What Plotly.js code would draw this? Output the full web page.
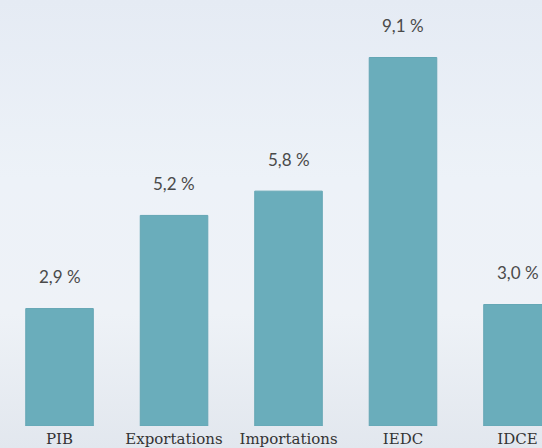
<!DOCTYPE html>
<html>
<head>
<meta charset="utf-8">
<script src="https://cdn.plot.ly/plotly-3.0.1.min.js"></script>
<style>
html,body{margin:0;padding:0;}
#chart{width:542px;height:448px;background:linear-gradient(to bottom,#e5ebf4 0%,#edf2f8 40%,#eef2f7 70%,#e2e7ee 100%);}
</style>
</head>
<body>
<div id="chart"></div>
<script>
var categories = ["PIB", "Exportations", "Importations", "IEDC", "IDCE"];
var values = [2.9, 5.2, 5.8, 9.1, 3.0];
var valueLabels = ["2,9 %", "5,2 %", "5,8 %", "9,1 %", "3,0 %"];

var trace = {
  type: "bar",
  x: categories,
  y: values,
  width: 0.59,
  marker: {color: "#6aadbb", line: {color: "#64a6b4", width: 1}},
  hoverinfo: "none"
};

var annotations = categories.map(function(c, i){
  return {
    x: c, y: values[i], xref: "x", yref: "y",
    text: valueLabels[i], showarrow: false,
    yanchor: "middle", yshift: 32,
    font: {family: "Lato, 'Open Sans', sans-serif", size: 17, color: "#4a4a4a"}
  };
});

var layout = {
  width: 542, height: 448,
  margin: {l: 0, r: 0, t: 0, b: 22},
  paper_bgcolor: "rgba(0,0,0,0)",
  plot_bgcolor: "rgba(0,0,0,0)",
  showlegend: false,
  xaxis: {
    type: "category",
    range: [-0.52, 4.214],
    showgrid: false, zeroline: false, showline: false, ticks: "",
    ticklabelstandoff: 2,
    automargin: false,
    tickfont: {family: "'DejaVu Serif', serif", size: 15, color: "#333333"}
  },
  yaxis: {
    range: [0, 10.52],
    showgrid: false, zeroline: false, showline: false, showticklabels: false,
    automargin: false
  },
  annotations: annotations
};

Plotly.newPlot("chart", [trace], layout, {displayModeBar: false, staticPlot: true});
</script>
</body>
</html>
